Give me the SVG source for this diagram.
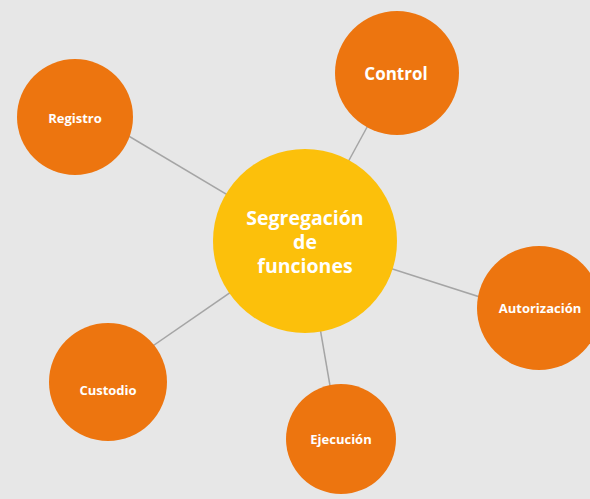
<svg xmlns="http://www.w3.org/2000/svg" width="590" height="499" viewBox="0 0 590 499">
<style>
.bg{fill:#e7e7e7}
.link{stroke:#a5a5a5;stroke-width:1.5;fill:none}
.node{fill:#ed750f}
.hub{fill:#fcc00b}
text{font-family:"Open Sans","Noto Sans","DejaVu Sans",sans-serif;font-weight:bold;fill:#ffffff;text-anchor:middle}
.s{font-size:13px}
.c{font-size:19.5px}
</style>
<rect class="bg" x="0" y="0" width="590" height="499"/>
<g id="connectors">
<line class="link" x1="305" y1="241" x2="390" y2="85"/>
<line class="link" x1="305" y1="241" x2="90" y2="113"/>
<line class="link" x1="305" y1="241" x2="530" y2="313"/>
<line class="link" x1="305" y1="241" x2="115" y2="372"/>
<line class="link" x1="305" y1="241" x2="338" y2="432"/>
</g>
<g id="hub">
<circle class="hub" cx="305" cy="241" r="92"/>
<text class="c" x="305" y="225">Segregación</text>
<text class="c" x="305" y="249">de</text>
<text class="c" x="305" y="273">funciones</text>
</g>
<g id="control">
<circle class="node" cx="397" cy="73" r="62"/>
<text x="396" y="80" font-size="17">Control</text>
</g>
<g id="registro">
<circle class="node" cx="75" cy="117" r="58"/>
<text class="s" x="75" y="123">Registro</text>
</g>
<g id="autorizacion">
<circle class="node" cx="539" cy="308" r="62"/>
<text class="s" x="540" y="313">Autorización</text>
</g>
<g id="custodio">
<circle class="node" cx="108" cy="382" r="59"/>
<text class="s" x="108" y="395">Custodio</text>
</g>
<g id="ejecucion">
<circle class="node" cx="341" cy="439" r="55"/>
<text class="s" x="341" y="444">Ejecución</text>
</g>
</svg>
